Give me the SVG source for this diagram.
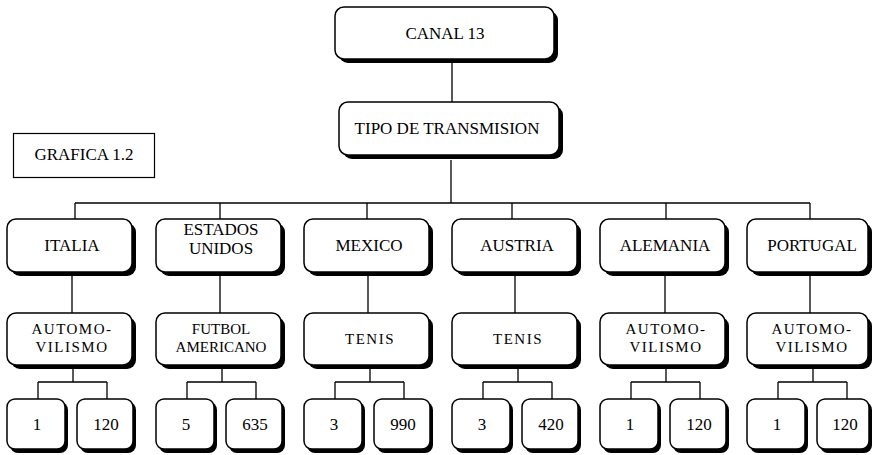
<svg xmlns="http://www.w3.org/2000/svg" width="876" height="455" viewBox="0 0 876 455">
<style>
.sh{fill:#000}
.bx{fill:#fff;stroke:#000;stroke-width:1.5}
.pl{fill:#fff;stroke:#000;stroke-width:1.2}
.t{font-family:'Liberation Serif','Times New Roman','DejaVu Serif','Noto Serif',serif;font-size:17px;text-anchor:middle;fill:#000}
.s{font-size:15px;letter-spacing:1.5px}
.n{font-size:17px}
.ln{stroke:#000;stroke-width:1.3;fill:none}
</style>
<g id="connectors" class="ln">
<path d="M452 62V102M451 160V203M75 203H810"/>
<path d="M75 203V219M220 203V219M367 203V219M512 203V219M666 203V219M810 203V219"/>
<path d="M72 276V313M220 276V313M368 276V313M515 276V313M665 276V313M810 276V313"/>
<path d="M73 369V382M38 382H107M38 382V399M107 382V399"/>
<path d="M222 369V382M187 382H256M187 382V399M256 382V399"/>
<path d="M370 369V382M335 382H404M335 382V399M404 382V399"/>
<path d="M518 369V382M483 382H552M483 382V399M552 382V399"/>
<path d="M666 369V382M631 382H700M631 382V399M700 382V399"/>
<path d="M813 369V382M778 382H847M778 382V399M847 382V399"/>
</g>
<g id="canal13"><rect class="sh" x="339" y="11" width="219" height="52" rx="9"/><rect class="bx" x="335" y="7" width="219" height="52" rx="9"/><text class="t" x="445" y="39">CANAL 13</text></g>
<g id="tipo"><rect class="sh" x="343" y="106" width="220" height="53" rx="9"/><rect class="bx" x="339" y="102" width="220" height="53" rx="9"/><text class="t" x="447" y="134">TIPO DE TRANSMISION</text></g>
<g id="grafica"><rect class="pl" x="13.5" y="133.5" width="141" height="44"/><text class="t" x="84" y="160">GRAFICA 1.2</text></g>

<g id="italia"><rect class="sh" x="11" y="223" width="125" height="53" rx="9"/><rect class="bx" x="7" y="219" width="125" height="53" rx="9"/><text class="t" x="72" y="251">ITALIA</text></g>
<g id="eeuu"><rect class="sh" x="160" y="223" width="125" height="53" rx="9"/><rect class="bx" x="156" y="219" width="125" height="53" rx="9"/><text class="t" x="221" y="235">ESTADOS</text><text class="t" x="221" y="254">UNIDOS</text></g>
<g id="mexico"><rect class="sh" x="308" y="223" width="125" height="53" rx="9"/><rect class="bx" x="304" y="219" width="125" height="53" rx="9"/><text class="t" x="369" y="251">MEXICO</text></g>
<g id="austria"><rect class="sh" x="456" y="223" width="125" height="53" rx="9"/><rect class="bx" x="452" y="219" width="125" height="53" rx="9"/><text class="t" x="517" y="251">AUSTRIA</text></g>
<g id="alemania"><rect class="sh" x="604" y="223" width="125" height="53" rx="9"/><rect class="bx" x="600" y="219" width="125" height="53" rx="9"/><text class="t" x="665" y="251">ALEMANIA</text></g>
<g id="portugal"><rect class="sh" x="751" y="223" width="121" height="53" rx="9"/><rect class="bx" x="747" y="219" width="121" height="53" rx="9"/><text class="t" x="812" y="251">PORTUGAL</text></g>

<g id="dep-italia"><rect class="sh" x="11" y="317" width="125" height="52" rx="9"/><rect class="bx" x="7" y="313" width="125" height="52" rx="9"/><text class="t s" x="72" y="334">AUTOMO-</text><text class="t s" x="72" y="352">VILISMO</text></g>
<g id="dep-eeuu"><rect class="sh" x="160" y="317" width="125" height="52" rx="9"/><rect class="bx" x="156" y="313" width="125" height="52" rx="9"/><text class="t s" x="221" y="334" style="letter-spacing:0">FUTBOL</text><text class="t s" x="221" y="352" style="letter-spacing:0">AMERICANO</text></g>
<g id="dep-mexico"><rect class="sh" x="308" y="317" width="125" height="52" rx="9"/><rect class="bx" x="304" y="313" width="125" height="52" rx="9"/><text class="t s" x="370" y="344">TENIS</text></g>
<g id="dep-austria"><rect class="sh" x="456" y="317" width="125" height="52" rx="9"/><rect class="bx" x="452" y="313" width="125" height="52" rx="9"/><text class="t s" x="518" y="344">TENIS</text></g>
<g id="dep-alemania"><rect class="sh" x="604" y="317" width="125" height="52" rx="9"/><rect class="bx" x="600" y="313" width="125" height="52" rx="9"/><text class="t s" x="666" y="334">AUTOMO-</text><text class="t s" x="666" y="352">VILISMO</text></g>
<g id="dep-portugal"><rect class="sh" x="751" y="317" width="121" height="52" rx="9"/><rect class="bx" x="747" y="313" width="121" height="52" rx="9"/><text class="t s" x="812" y="334">AUTOMO-</text><text class="t s" x="812" y="352">VILISMO</text></g>

<g id="n-italia-a"><rect class="sh" x="10" y="402" width="58" height="51" rx="8"/><rect class="bx" x="7" y="399" width="58" height="50" rx="8"/><text class="t n" x="37" y="430">1</text></g>
<g id="n-italia-b"><rect class="sh" x="80" y="402" width="56" height="51" rx="8"/><rect class="bx" x="77" y="399" width="56" height="50" rx="8"/><text class="t n" x="106" y="430">120</text></g>
<g id="n-eeuu-a"><rect class="sh" x="159" y="402" width="58" height="51" rx="8"/><rect class="bx" x="156" y="399" width="58" height="50" rx="8"/><text class="t n" x="186" y="430">5</text></g>
<g id="n-eeuu-b"><rect class="sh" x="229" y="402" width="56" height="51" rx="8"/><rect class="bx" x="226" y="399" width="56" height="50" rx="8"/><text class="t n" x="255" y="430">635</text></g>
<g id="n-mexico-a"><rect class="sh" x="307" y="402" width="58" height="51" rx="8"/><rect class="bx" x="304" y="399" width="58" height="50" rx="8"/><text class="t n" x="334" y="430">3</text></g>
<g id="n-mexico-b"><rect class="sh" x="377" y="402" width="56" height="51" rx="8"/><rect class="bx" x="374" y="399" width="56" height="50" rx="8"/><text class="t n" x="403" y="430">990</text></g>
<g id="n-austria-a"><rect class="sh" x="455" y="402" width="58" height="51" rx="8"/><rect class="bx" x="452" y="399" width="58" height="50" rx="8"/><text class="t n" x="482" y="430">3</text></g>
<g id="n-austria-b"><rect class="sh" x="525" y="402" width="56" height="51" rx="8"/><rect class="bx" x="522" y="399" width="56" height="50" rx="8"/><text class="t n" x="551" y="430">420</text></g>
<g id="n-alemania-a"><rect class="sh" x="603" y="402" width="58" height="51" rx="8"/><rect class="bx" x="600" y="399" width="58" height="50" rx="8"/><text class="t n" x="630" y="430">1</text></g>
<g id="n-alemania-b"><rect class="sh" x="673" y="402" width="56" height="51" rx="8"/><rect class="bx" x="670" y="399" width="56" height="50" rx="8"/><text class="t n" x="699" y="430">120</text></g>
<g id="n-portugal-a"><rect class="sh" x="750" y="402" width="58" height="51" rx="8"/><rect class="bx" x="747" y="399" width="58" height="50" rx="8"/><text class="t n" x="777" y="430">1</text></g>
<g id="n-portugal-b"><rect class="sh" x="820" y="402" width="52" height="51" rx="8"/><rect class="bx" x="817" y="399" width="52" height="50" rx="8"/><text class="t n" x="845" y="430">120</text></g>
</svg>
